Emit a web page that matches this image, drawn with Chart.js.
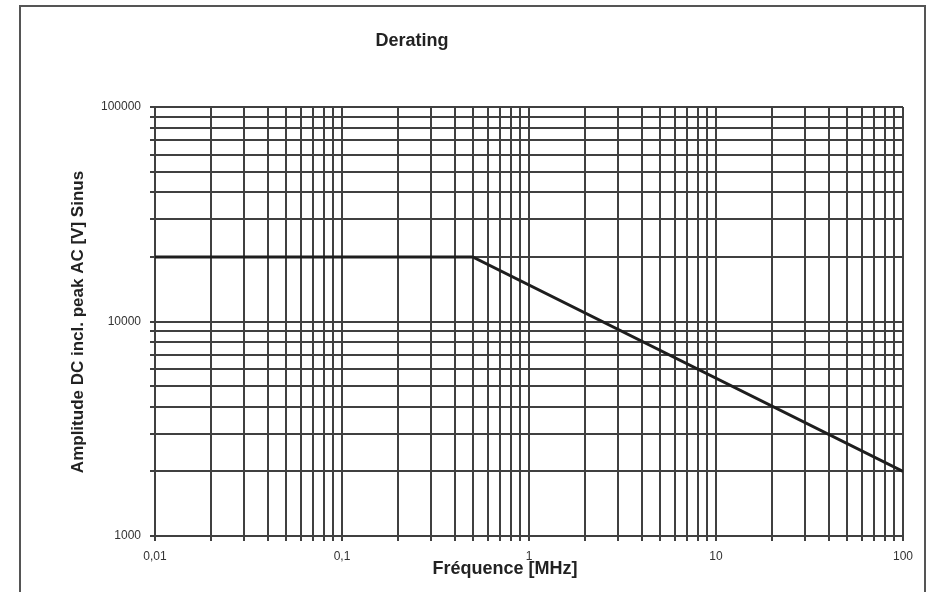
<!DOCTYPE html>
<html><head><meta charset="utf-8">
<script src="https://cdn.jsdelivr.net/npm/chart.js@4/dist/chart.umd.min.js"></script>
<style>html,body{margin:0;padding:0;background:#fff}#wrap{width:932px;height:592px;position:relative}</style>
</head><body><div id="wrap"><canvas id="c" width="932" height="592"></canvas></div>
<script>
const chartTitle = 'Derating';
const xAxisTitle = 'Fréquence [MHz]';
const yAxisTitle = 'Amplitude DC incl. peak AC [V] Sinus';
const frequencies = [0.01, 0.5, 100];
const amplitudes = [20000, 20000, 2000];
const xMajorTicks = [0.01, 0.1, 1, 10, 100];
const xMajorLabels = ['0,01', '0,1', '1', '10', '100'];
const yMajorTicks = [1000, 10000, 100000];
const yMajorLabels = ['1000', '10000', '100000'];
const minorMultipliers = [1, 2, 3, 4, 5, 6, 7, 8, 9];

function buildTicks(majors) {
  const t = [];
  for (let i = 0; i < majors.length - 1; i++) {
    minorMultipliers.forEach(m => t.push({ value: +(majors[i] * m).toPrecision(6) }));
  }
  t.push({ value: majors[majors.length - 1] });
  return t;
}
function labelFor(v, majors, labels) {
  for (let i = 0; i < majors.length; i++) {
    if (Math.abs(v - majors[i]) / majors[i] < 1e-6) return labels[i];
  }
  return '';
}

const FONT = '"Liberation Sans", Arial, Helvetica, sans-serif';
const GRID = '#404040';

const decor = {
  id: 'decor',
  afterDraw(chart) {
    const ctx = chart.ctx;
    const a = chart.chartArea;
    ctx.save();
    ctx.strokeStyle = '#555';
    ctx.lineWidth = 2;
    ctx.strokeRect(20, 6, 905, 600);
    ctx.fillStyle = '#222';
    ctx.textAlign = 'center';
    ctx.textBaseline = 'middle';
    ctx.font = 'bold 18px ' + FONT;
    ctx.fillText(chartTitle, 412, 41);
    ctx.fillText(xAxisTitle, 505, 569);
    ctx.font = 'bold 17px ' + FONT;
    ctx.translate(78, 322);
    ctx.rotate(-Math.PI / 2);
    ctx.fillText(yAxisTitle, 0, 0);
    ctx.restore();
  }
};

new Chart(document.getElementById('c'), {
  type: 'line',
  data: {
    datasets: [{
      data: frequencies.map((f, i) => ({ x: f, y: amplitudes[i] })),
      borderColor: '#1e1e1e',
      borderWidth: 3,
      pointRadius: 0,
      tension: 0,
      fill: false
    }]
  },
  options: {
    responsive: false,
    devicePixelRatio: 1,
    animation: false,
    layout: { padding: { left: 20, top: 107, right: 29, bottom: 0 } },
    plugins: { legend: { display: false }, title: { display: false }, tooltip: { enabled: false } },
    scales: {
      x: {
        type: 'logarithmic',
        min: 0.01, max: 100,
        afterBuildTicks: s => { s.ticks = buildTicks(xMajorTicks); },
        afterFit: s => { s.height = 56; },
        ticks: {
          autoSkip: false, maxRotation: 0, padding: 8,
          color: '#333', font: { family: FONT, size: 12 },
          callback: v => labelFor(v, xMajorTicks, xMajorLabels)
        },
        grid: { color: GRID, lineWidth: 2, tickLength: 5, drawTicks: true },
        border: { color: GRID, width: 2 }
      },
      y: {
        type: 'logarithmic',
        min: 1000, max: 100000,
        afterBuildTicks: s => { s.ticks = buildTicks(yMajorTicks); },
        afterFit: s => { s.width = 135; },
        ticks: {
          autoSkip: false, padding: 9,
          color: '#333', font: { family: FONT, size: 12 },
          callback: v => labelFor(v, yMajorTicks, yMajorLabels)
        },
        grid: { color: GRID, lineWidth: 2, tickLength: 5, drawTicks: true },
        border: { color: GRID, width: 2 }
      }
    }
  },
  plugins: [decor]
});
</script></body></html>
